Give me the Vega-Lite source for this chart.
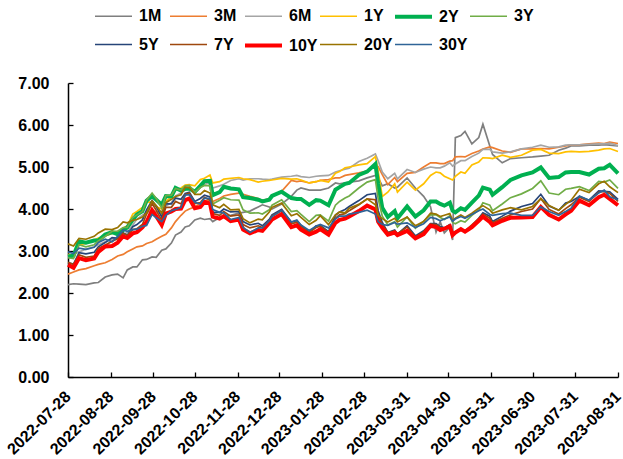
{
  "$schema": "https://vega.github.io/schema/vega-lite/v6.json",
  "width": 550,
  "height": 294,
  "autosize": {"type": "none"},
  "padding": {"left": 68, "top": 83, "right": 5, "bottom": 82},
  "background": "white",
  "config": {"view": {"stroke": null}, "font": "Liberation Sans"},
  "data": {"values": [
    {"d":"2022-07-28","1M":2.20,"3M":2.45,"6M":2.88,"1Y":2.92,"2Y":2.87,"3Y":2.84,"5Y":2.72,"7Y":2.73,"10Y":2.67,"20Y":3.17,"30Y":2.98},
    {"d":"2022-08-01","1M":2.22,"3M":2.50,"6M":2.93,"1Y":2.90,"2Y":2.89,"3Y":2.82,"5Y":2.69,"7Y":2.68,"10Y":2.60,"20Y":3.12,"30Y":2.94},
    {"d":"2022-08-05","1M":2.21,"3M":2.55,"6M":2.98,"1Y":3.15,"2Y":3.23,"3Y":3.15,"5Y":2.96,"7Y":2.91,"10Y":2.83,"20Y":3.30,"30Y":3.07},
    {"d":"2022-08-10","1M":2.20,"3M":2.58,"6M":3.04,"1Y":3.18,"2Y":3.20,"3Y":3.10,"5Y":2.93,"7Y":2.85,"10Y":2.78,"20Y":3.28,"30Y":3.04},
    {"d":"2022-08-16","1M":2.24,"3M":2.65,"6M":3.10,"1Y":3.26,"2Y":3.25,"3Y":3.15,"5Y":2.97,"7Y":2.88,"10Y":2.82,"20Y":3.35,"30Y":3.09},
    {"d":"2022-08-19","1M":2.25,"3M":2.68,"6M":3.15,"1Y":3.31,"2Y":3.25,"3Y":3.24,"5Y":3.10,"7Y":3.06,"10Y":2.98,"20Y":3.43,"30Y":3.20},
    {"d":"2022-08-24","1M":2.38,"3M":2.72,"6M":3.22,"1Y":3.36,"2Y":3.39,"3Y":3.35,"5Y":3.20,"7Y":3.14,"10Y":3.11,"20Y":3.52,"30Y":3.28},
    {"d":"2022-08-29","1M":2.43,"3M":2.80,"6M":3.28,"1Y":3.42,"2Y":3.45,"3Y":3.47,"5Y":3.32,"7Y":3.23,"10Y":3.12,"20Y":3.51,"30Y":3.22},
    {"d":"2022-09-02","1M":2.45,"3M":2.88,"6M":3.33,"1Y":3.46,"2Y":3.40,"3Y":3.47,"5Y":3.30,"7Y":3.29,"10Y":3.20,"20Y":3.56,"30Y":3.35},
    {"d":"2022-09-06","1M":2.36,"3M":2.92,"6M":3.39,"1Y":3.55,"2Y":3.50,"3Y":3.56,"5Y":3.43,"7Y":3.42,"10Y":3.35,"20Y":3.69,"30Y":3.50},
    {"d":"2022-09-09","1M":2.55,"3M":2.98,"6M":3.44,"1Y":3.60,"2Y":3.56,"3Y":3.56,"5Y":3.37,"7Y":3.37,"10Y":3.31,"20Y":3.67,"30Y":3.47},
    {"d":"2022-09-13","1M":2.62,"3M":3.05,"6M":3.62,"1Y":3.88,"2Y":3.75,"3Y":3.80,"5Y":3.58,"7Y":3.51,"10Y":3.42,"20Y":3.73,"30Y":3.51},
    {"d":"2022-09-16","1M":2.62,"3M":3.10,"6M":3.76,"1Y":3.94,"2Y":3.87,"3Y":3.86,"5Y":3.63,"7Y":3.53,"10Y":3.45,"20Y":3.75,"30Y":3.52},
    {"d":"2022-09-20","1M":2.79,"3M":3.12,"6M":3.85,"1Y":4.04,"2Y":3.95,"3Y":3.94,"5Y":3.74,"7Y":3.63,"10Y":3.56,"20Y":3.81,"30Y":3.59},
    {"d":"2022-09-23","1M":2.80,"3M":3.18,"6M":3.92,"1Y":4.16,"2Y":4.20,"3Y":4.21,"5Y":3.98,"7Y":3.88,"10Y":3.69,"20Y":3.91,"30Y":3.61},
    {"d":"2022-09-27","1M":2.86,"3M":3.22,"6M":3.97,"1Y":4.17,"2Y":4.31,"3Y":4.38,"5Y":4.20,"7Y":4.13,"10Y":3.97,"20Y":4.19,"30Y":3.87},
    {"d":"2022-09-30","1M":2.85,"3M":3.28,"6M":3.92,"1Y":4.05,"2Y":4.22,"3Y":4.25,"5Y":4.06,"7Y":3.97,"10Y":3.83,"20Y":4.08,"30Y":3.79},
    {"d":"2022-10-04","1M":3.02,"3M":3.35,"6M":3.95,"1Y":4.00,"2Y":4.10,"3Y":4.02,"5Y":3.81,"7Y":3.73,"10Y":3.62,"20Y":3.90,"30Y":3.70},
    {"d":"2022-10-07","1M":3.05,"3M":3.40,"6M":4.07,"1Y":4.19,"2Y":4.31,"3Y":4.32,"5Y":4.12,"7Y":4.04,"10Y":3.89,"20Y":4.15,"30Y":3.85},
    {"d":"2022-10-11","1M":3.19,"3M":3.55,"6M":4.15,"1Y":4.28,"2Y":4.30,"3Y":4.33,"5Y":4.12,"7Y":4.04,"10Y":3.94,"20Y":4.23,"30Y":3.96},
    {"d":"2022-10-14","1M":3.38,"3M":3.70,"6M":4.31,"1Y":4.45,"2Y":4.50,"3Y":4.49,"5Y":4.26,"7Y":4.18,"10Y":4.00,"20Y":4.30,"30Y":3.99},
    {"d":"2022-10-18","1M":3.45,"3M":3.85,"6M":4.38,"1Y":4.50,"2Y":4.44,"3Y":4.45,"5Y":4.23,"7Y":4.12,"10Y":4.01,"20Y":4.34,"30Y":4.04},
    {"d":"2022-10-21","1M":3.57,"3M":3.95,"6M":4.46,"1Y":4.57,"2Y":4.48,"3Y":4.55,"5Y":4.37,"7Y":4.34,"10Y":4.21,"20Y":4.52,"30Y":4.33},
    {"d":"2022-10-24","1M":3.60,"3M":4.00,"6M":4.48,"1Y":4.58,"2Y":4.49,"3Y":4.56,"5Y":4.40,"7Y":4.38,"10Y":4.25,"20Y":4.51,"30Y":4.34},
    {"d":"2022-10-28","1M":3.74,"3M":4.05,"6M":4.44,"1Y":4.55,"2Y":4.41,"3Y":4.40,"5Y":4.18,"7Y":4.13,"10Y":4.02,"20Y":4.35,"30Y":4.16},
    {"d":"2022-11-01","1M":3.78,"3M":4.14,"6M":4.57,"1Y":4.70,"2Y":4.55,"3Y":4.51,"5Y":4.25,"7Y":4.15,"10Y":4.05,"20Y":4.35,"30Y":4.12},
    {"d":"2022-11-04","1M":3.75,"3M":4.19,"6M":4.59,"1Y":4.73,"2Y":4.66,"3Y":4.56,"5Y":4.33,"7Y":4.28,"10Y":4.17,"20Y":4.44,"30Y":4.26},
    {"d":"2022-11-08","1M":3.77,"3M":4.22,"6M":4.62,"1Y":4.81,"2Y":4.67,"3Y":4.55,"5Y":4.29,"7Y":4.21,"10Y":4.13,"20Y":4.38,"30Y":4.25},
    {"d":"2022-11-10","1M":3.70,"3M":4.18,"6M":4.50,"1Y":4.62,"2Y":4.33,"3Y":4.12,"5Y":3.92,"7Y":3.89,"10Y":3.82,"20Y":4.10,"30Y":3.99},
    {"d":"2022-11-15","1M":3.80,"3M":4.25,"6M":4.55,"1Y":4.65,"2Y":4.40,"3Y":4.21,"5Y":3.92,"7Y":3.85,"10Y":3.77,"20Y":4.03,"30Y":3.92},
    {"d":"2022-11-18","1M":3.82,"3M":4.31,"6M":4.59,"1Y":4.71,"2Y":4.53,"3Y":4.27,"5Y":4.00,"7Y":3.94,"10Y":3.83,"20Y":4.11,"30Y":3.91},
    {"d":"2022-11-23","1M":3.85,"3M":4.35,"6M":4.68,"1Y":4.73,"2Y":4.49,"3Y":4.22,"5Y":3.93,"7Y":3.83,"10Y":3.71,"20Y":3.98,"30Y":3.75},
    {"d":"2022-11-29","1M":3.90,"3M":4.38,"6M":4.72,"1Y":4.75,"2Y":4.47,"3Y":4.21,"5Y":3.94,"7Y":3.86,"10Y":3.75,"20Y":3.99,"30Y":3.80},
    {"d":"2022-12-02","1M":3.92,"3M":4.35,"6M":4.69,"1Y":4.72,"2Y":4.28,"3Y":3.98,"5Y":3.70,"7Y":3.63,"10Y":3.51,"20Y":3.77,"30Y":3.56},
    {"d":"2022-12-07","1M":3.95,"3M":4.30,"6M":4.72,"1Y":4.70,"2Y":4.26,"3Y":3.90,"5Y":3.62,"7Y":3.55,"10Y":3.42,"20Y":3.67,"30Y":3.44},
    {"d":"2022-12-13","1M":4.05,"3M":4.25,"6M":4.72,"1Y":4.64,"2Y":4.22,"3Y":3.91,"5Y":3.66,"7Y":3.60,"10Y":3.50,"20Y":3.76,"30Y":3.55},
    {"d":"2022-12-16","1M":4.10,"3M":4.20,"6M":4.71,"1Y":4.66,"2Y":4.18,"3Y":3.88,"5Y":3.60,"7Y":3.56,"10Y":3.48,"20Y":3.74,"30Y":3.55},
    {"d":"2022-12-21","1M":4.05,"3M":4.25,"6M":4.70,"1Y":4.68,"2Y":4.22,"3Y":3.98,"5Y":3.75,"7Y":3.72,"10Y":3.67,"20Y":3.93,"30Y":3.72},
    {"d":"2022-12-23","1M":4.00,"3M":4.30,"6M":4.71,"1Y":4.69,"2Y":4.31,"3Y":4.09,"5Y":3.86,"7Y":3.83,"10Y":3.75,"20Y":4.04,"30Y":3.82},
    {"d":"2022-12-30","1M":4.12,"3M":4.42,"6M":4.76,"1Y":4.73,"2Y":4.41,"3Y":4.22,"5Y":3.99,"7Y":3.96,"10Y":3.88,"20Y":4.14,"30Y":3.97},
    {"d":"2023-01-06","1M":4.30,"3M":4.68,"6M":4.78,"1Y":4.71,"2Y":4.26,"3Y":3.94,"5Y":3.69,"7Y":3.65,"10Y":3.57,"20Y":3.84,"30Y":3.69},
    {"d":"2023-01-10","1M":4.45,"3M":4.65,"6M":4.80,"1Y":4.72,"2Y":4.24,"3Y":3.96,"5Y":3.72,"7Y":3.68,"10Y":3.61,"20Y":3.89,"30Y":3.74},
    {"d":"2023-01-13","1M":4.50,"3M":4.67,"6M":4.77,"1Y":4.69,"2Y":4.24,"3Y":3.87,"5Y":3.61,"7Y":3.58,"10Y":3.51,"20Y":3.80,"30Y":3.62},
    {"d":"2023-01-19","1M":4.45,"3M":4.62,"6M":4.75,"1Y":4.62,"2Y":4.10,"3Y":3.70,"5Y":3.45,"7Y":3.44,"10Y":3.39,"20Y":3.63,"30Y":3.49},
    {"d":"2023-01-24","1M":4.45,"3M":4.65,"6M":4.78,"1Y":4.65,"2Y":4.21,"3Y":3.85,"5Y":3.60,"7Y":3.56,"10Y":3.46,"20Y":3.73,"30Y":3.59},
    {"d":"2023-01-27","1M":4.45,"3M":4.68,"6M":4.79,"1Y":4.68,"2Y":4.20,"3Y":3.86,"5Y":3.61,"7Y":3.59,"10Y":3.52,"20Y":3.84,"30Y":3.63},
    {"d":"2023-02-02","1M":4.50,"3M":4.70,"6M":4.80,"1Y":4.64,"2Y":4.09,"3Y":3.71,"5Y":3.46,"7Y":3.44,"10Y":3.39,"20Y":3.63,"30Y":3.55},
    {"d":"2023-02-07","1M":4.62,"3M":4.74,"6M":4.88,"1Y":4.85,"2Y":4.46,"3Y":4.09,"5Y":3.85,"7Y":3.78,"10Y":3.67,"20Y":3.86,"30Y":3.76},
    {"d":"2023-02-10","1M":4.60,"3M":4.74,"6M":4.91,"1Y":4.89,"2Y":4.52,"3Y":4.18,"5Y":3.93,"7Y":3.86,"10Y":3.74,"20Y":3.93,"30Y":3.83},
    {"d":"2023-02-14","1M":4.62,"3M":4.80,"6M":4.95,"1Y":4.98,"2Y":4.60,"3Y":4.26,"5Y":3.99,"7Y":3.89,"10Y":3.77,"20Y":3.91,"30Y":3.83},
    {"d":"2023-02-17","1M":4.64,"3M":4.82,"6M":4.97,"1Y":5.00,"2Y":4.62,"3Y":4.31,"5Y":4.06,"7Y":3.96,"10Y":3.82,"20Y":4.02,"30Y":3.88},
    {"d":"2023-02-24","1M":4.67,"3M":4.86,"6M":5.13,"1Y":5.05,"2Y":4.81,"3Y":4.50,"5Y":4.20,"7Y":4.10,"10Y":3.95,"20Y":4.11,"30Y":3.92},
    {"d":"2023-03-02","1M":4.74,"3M":4.90,"6M":5.21,"1Y":5.08,"2Y":4.89,"3Y":4.64,"5Y":4.34,"7Y":4.24,"10Y":4.08,"20Y":4.24,"30Y":3.97},
    {"d":"2023-03-08","1M":4.80,"3M":5.06,"6M":5.31,"1Y":5.25,"2Y":5.07,"3Y":4.70,"5Y":4.37,"7Y":4.22,"10Y":3.99,"20Y":4.10,"30Y":3.88},
    {"d":"2023-03-10","1M":4.75,"3M":5.01,"6M":5.15,"1Y":4.90,"2Y":4.60,"3Y":4.25,"5Y":3.96,"7Y":3.84,"10Y":3.70,"20Y":3.85,"30Y":3.70},
    {"d":"2023-03-13","1M":4.55,"3M":4.82,"6M":4.88,"1Y":4.30,"2Y":4.03,"3Y":3.83,"5Y":3.68,"7Y":3.63,"10Y":3.55,"20Y":3.77,"30Y":3.63},
    {"d":"2023-03-17","1M":4.60,"3M":4.58,"6M":4.72,"1Y":4.40,"2Y":3.81,"3Y":3.62,"5Y":3.44,"7Y":3.44,"10Y":3.39,"20Y":3.69,"30Y":3.61},
    {"d":"2023-03-22","1M":4.50,"3M":4.75,"6M":4.85,"1Y":4.60,"2Y":3.95,"3Y":3.70,"5Y":3.50,"7Y":3.48,"10Y":3.44,"20Y":3.78,"30Y":3.68},
    {"d":"2023-03-24","1M":4.52,"3M":4.65,"6M":4.72,"1Y":4.40,"2Y":3.78,"3Y":3.57,"5Y":3.40,"7Y":3.41,"10Y":3.38,"20Y":3.69,"30Y":3.64},
    {"d":"2023-03-31","1M":4.74,"3M":4.85,"6M":4.94,"1Y":4.64,"2Y":4.06,"3Y":3.81,"5Y":3.60,"7Y":3.57,"10Y":3.48,"20Y":3.81,"30Y":3.67},
    {"d":"2023-04-06","1M":4.50,"3M":4.87,"6M":4.87,"1Y":4.45,"2Y":3.82,"3Y":3.54,"5Y":3.36,"7Y":3.33,"10Y":3.30,"20Y":3.60,"30Y":3.56},
    {"d":"2023-04-12","1M":4.30,"3M":5.00,"6M":4.95,"1Y":4.60,"2Y":3.97,"3Y":3.71,"5Y":3.48,"7Y":3.46,"10Y":3.40,"20Y":3.70,"30Y":3.65},
    {"d":"2023-04-17","1M":4.05,"3M":5.10,"6M":5.00,"1Y":4.80,"2Y":4.18,"3Y":3.86,"5Y":3.65,"7Y":3.64,"10Y":3.60,"20Y":3.90,"30Y":3.80},
    {"d":"2023-04-21","1M":3.45,"3M":5.10,"6M":4.98,"1Y":4.88,"2Y":4.18,"3Y":3.86,"5Y":3.65,"7Y":3.63,"10Y":3.57,"20Y":3.88,"30Y":3.77},
    {"d":"2023-04-24","1M":3.70,"3M":5.08,"6M":4.98,"1Y":4.86,"2Y":4.12,"3Y":3.80,"5Y":3.58,"7Y":3.56,"10Y":3.50,"20Y":3.82,"30Y":3.72},
    {"d":"2023-04-27","1M":3.43,"3M":5.08,"6M":5.02,"1Y":4.78,"2Y":4.08,"3Y":3.75,"5Y":3.55,"7Y":3.54,"10Y":3.53,"20Y":3.85,"30Y":3.76},
    {"d":"2023-05-01","1M":3.57,"3M":5.14,"6M":5.10,"1Y":4.72,"2Y":4.15,"3Y":3.84,"5Y":3.63,"7Y":3.62,"10Y":3.59,"20Y":3.89,"30Y":3.81},
    {"d":"2023-05-03","1M":3.26,"3M":5.15,"6M":5.02,"1Y":4.69,"2Y":3.96,"3Y":3.68,"5Y":3.43,"7Y":3.43,"10Y":3.38,"20Y":3.73,"30Y":3.71},
    {"d":"2023-05-05","1M":5.70,"3M":5.24,"6M":5.07,"1Y":4.78,"2Y":3.92,"3Y":3.65,"5Y":3.44,"7Y":3.46,"10Y":3.44,"20Y":3.78,"30Y":3.76},
    {"d":"2023-05-09","1M":5.75,"3M":5.25,"6M":5.15,"1Y":4.88,"2Y":4.02,"3Y":3.72,"5Y":3.50,"7Y":3.52,"10Y":3.52,"20Y":3.86,"30Y":3.82},
    {"d":"2023-05-12","1M":5.85,"3M":5.24,"6M":5.15,"1Y":4.85,"2Y":3.98,"3Y":3.69,"5Y":3.46,"7Y":3.48,"10Y":3.46,"20Y":3.80,"30Y":3.78},
    {"d":"2023-05-17","1M":5.55,"3M":5.32,"6M":5.25,"1Y":5.05,"2Y":4.15,"3Y":3.85,"5Y":3.60,"7Y":3.62,"10Y":3.57,"20Y":3.90,"30Y":3.87},
    {"d":"2023-05-22","1M":5.70,"3M":5.38,"6M":5.33,"1Y":5.12,"2Y":4.32,"3Y":3.98,"5Y":3.78,"7Y":3.77,"10Y":3.72,"20Y":4.02,"30Y":3.96},
    {"d":"2023-05-25","1M":6.02,"3M":5.43,"6M":5.42,"1Y":5.22,"2Y":4.51,"3Y":4.15,"5Y":3.91,"7Y":3.88,"10Y":3.82,"20Y":4.08,"30Y":4.00},
    {"d":"2023-05-30","1M":5.50,"3M":5.48,"6M":5.42,"1Y":5.21,"2Y":4.46,"3Y":4.09,"5Y":3.83,"7Y":3.78,"10Y":3.69,"20Y":3.98,"30Y":3.87},
    {"d":"2023-06-01","1M":5.30,"3M":5.46,"6M":5.36,"1Y":5.20,"2Y":4.34,"3Y":3.96,"5Y":3.70,"7Y":3.67,"10Y":3.61,"20Y":3.90,"30Y":3.85},
    {"d":"2023-06-08","1M":5.10,"3M":5.38,"6M":5.33,"1Y":5.28,"2Y":4.52,"3Y":4.12,"5Y":3.83,"7Y":3.78,"10Y":3.72,"20Y":3.98,"30Y":3.89},
    {"d":"2023-06-14","1M":5.20,"3M":5.35,"6M":5.36,"1Y":5.23,"2Y":4.69,"3Y":4.27,"5Y":3.95,"7Y":3.86,"10Y":3.79,"20Y":4.03,"30Y":3.90},
    {"d":"2023-06-22","1M":5.22,"3M":5.43,"6M":5.43,"1Y":5.28,"2Y":4.80,"3Y":4.36,"5Y":4.06,"7Y":3.94,"10Y":3.80,"20Y":3.98,"30Y":3.85},
    {"d":"2023-06-30","1M":5.24,"3M":5.43,"6M":5.47,"1Y":5.40,"2Y":4.87,"3Y":4.49,"5Y":4.13,"7Y":4.00,"10Y":3.81,"20Y":4.06,"30Y":3.85},
    {"d":"2023-07-06","1M":5.26,"3M":5.44,"6M":5.52,"1Y":5.42,"2Y":4.99,"3Y":4.67,"5Y":4.35,"7Y":4.25,"10Y":4.05,"20Y":4.24,"30Y":4.05},
    {"d":"2023-07-12","1M":5.28,"3M":5.43,"6M":5.47,"1Y":5.33,"2Y":4.74,"3Y":4.38,"5Y":4.07,"7Y":3.99,"10Y":3.86,"20Y":4.08,"30Y":3.94},
    {"d":"2023-07-19","1M":5.40,"3M":5.47,"6M":5.48,"1Y":5.32,"2Y":4.76,"3Y":4.34,"5Y":3.97,"7Y":3.88,"10Y":3.75,"20Y":3.97,"30Y":3.85},
    {"d":"2023-07-24","1M":5.45,"3M":5.50,"6M":5.52,"1Y":5.36,"2Y":4.87,"3Y":4.47,"5Y":4.14,"7Y":4.01,"10Y":3.87,"20Y":4.11,"30Y":3.94},
    {"d":"2023-07-28","1M":5.50,"3M":5.53,"6M":5.53,"1Y":5.37,"2Y":4.88,"3Y":4.49,"5Y":4.18,"7Y":4.10,"10Y":3.96,"20Y":4.21,"30Y":4.02},
    {"d":"2023-08-03","1M":5.50,"3M":5.53,"6M":5.53,"1Y":5.36,"2Y":4.88,"3Y":4.53,"5Y":4.30,"7Y":4.28,"10Y":4.20,"20Y":4.47,"30Y":4.31},
    {"d":"2023-08-10","1M":5.52,"3M":5.55,"6M":5.54,"1Y":5.37,"2Y":4.82,"3Y":4.44,"5Y":4.21,"7Y":4.18,"10Y":4.09,"20Y":4.39,"30Y":4.21},
    {"d":"2023-08-17","1M":5.52,"3M":5.57,"6M":5.55,"1Y":5.40,"2Y":4.96,"3Y":4.66,"5Y":4.43,"7Y":4.40,"10Y":4.28,"20Y":4.60,"30Y":4.38},
    {"d":"2023-08-21","1M":5.53,"3M":5.56,"6M":5.55,"1Y":5.43,"2Y":4.97,"3Y":4.64,"5Y":4.42,"7Y":4.42,"10Y":4.34,"20Y":4.66,"30Y":4.45},
    {"d":"2023-08-25","1M":5.52,"3M":5.59,"6M":5.57,"1Y":5.44,"2Y":5.05,"3Y":4.69,"5Y":4.41,"7Y":4.37,"10Y":4.24,"20Y":4.53,"30Y":4.29},
    {"d":"2023-08-31","1M":5.50,"3M":5.56,"6M":5.51,"1Y":5.37,"2Y":4.85,"3Y":4.49,"5Y":4.23,"7Y":4.18,"10Y":4.09,"20Y":4.39,"30Y":4.22}
  ]},
  "transform": [{"fold": ["1M","3M","6M","1Y","2Y","3Y","5Y","7Y","10Y","20Y","30Y"], "as": ["series","value"]}],
  "mark": {"type": "line", "interpolate": "linear"},
  "encoding": {
    "x": {
      "field": "d", "type": "temporal",
      "scale": {"type": "utc", "domain": [{"year":2022,"month":7,"date":28,"utc":true},{"year":2023,"month":8,"date":31,"utc":true}]},
      "axis": {
        "title": null, "grid": false, "format": "%Y-%m-%d", "labelAngle": -45,
        "labelAlign": "right", "labelBaseline": "top", "labelOffset": -6,
        "values": [
          {"year":2022,"month":7,"date":28,"utc":true},{"year":2022,"month":8,"date":28,"utc":true},
          {"year":2022,"month":9,"date":28,"utc":true},{"year":2022,"month":10,"date":28,"utc":true},
          {"year":2022,"month":11,"date":28,"utc":true},{"year":2022,"month":12,"date":28,"utc":true},
          {"year":2023,"month":1,"date":28,"utc":true},{"year":2023,"month":2,"date":28,"utc":true},
          {"year":2023,"month":3,"date":31,"utc":true},{"year":2023,"month":4,"date":30,"utc":true},
          {"year":2023,"month":5,"date":31,"utc":true},{"year":2023,"month":6,"date":30,"utc":true},
          {"year":2023,"month":7,"date":31,"utc":true},{"year":2023,"month":8,"date":31,"utc":true}
        ],
        "labelFont": "Liberation Sans", "labelFontWeight": "bold", "labelFontSize": 16, "labelColor": "#000000",
        "labelPadding": 16, "labelOverlap": false, "labelFlush": false,
        "domainColor": "#000000", "domainWidth": 1.5, "tickColor": "#000000", "tickWidth": 1.3, "tickSize": -5
      }
    },
    "y": {
      "field": "value", "type": "quantitative",
      "scale": {"domain": [0, 7], "nice": false, "zero": true},
      "axis": {
        "title": null, "grid": false, "format": ".2f", "values": [0,1,2,3,4,5,6,7],
        "labelFont": "Liberation Sans", "labelFontWeight": "bold", "labelFontSize": 16, "labelColor": "#000000",
        "labelPadding": 24, "labelFlush": false,
        "domainColor": "#000000", "domainWidth": 1.5, "tickColor": "#000000", "tickWidth": 1.3, "tickSize": -5
      }
    },
    "color": {
      "field": "series", "type": "nominal", "title": null,
      "scale": {
        "domain": ["1M","3M","6M","1Y","2Y","3Y","5Y","7Y","10Y","20Y","30Y"],
        "range": ["#7F7F7F","#ED7D31","#A5A5A5","#FFC000","#00B050","#70AD47","#264478","#9E480E","#FF0000","#997300","#2F6497"]
      },
      "legend": {
        "orient": "none", "legendX": 25, "legendY": -87, "direction": "horizontal", "columns": 6,
        "gridAlign": "all", "columnPadding": -6, "rowPadding": -2,
        "symbolType": "stroke", "symbolSize": 1369, "labelOffset": 5,
        "labelFont": "Liberation Sans", "labelFontWeight": "bold", "labelFontSize": 16, "labelColor": "#000000"
      }
    },
    "strokeWidth": {
      "field": "series", "type": "nominal", "title": null,
      "scale": {
        "type": "ordinal",
        "domain": ["1M","3M","6M","1Y","2Y","3Y","5Y","7Y","10Y","20Y","30Y"],
        "range": [1.7,1.7,1.7,1.7,4,1.7,1.7,1.7,4,1.7,1.7]
      },
      "legend": {
        "orient": "none", "legendX": 25, "legendY": -87, "direction": "horizontal", "columns": 6,
        "gridAlign": "all", "columnPadding": -6, "rowPadding": -2,
        "symbolType": "stroke", "symbolSize": 1369, "labelOffset": 5,
        "labelFont": "Liberation Sans", "labelFontWeight": "bold", "labelFontSize": 16, "labelColor": "#000000"
      }
    }
  }
}
